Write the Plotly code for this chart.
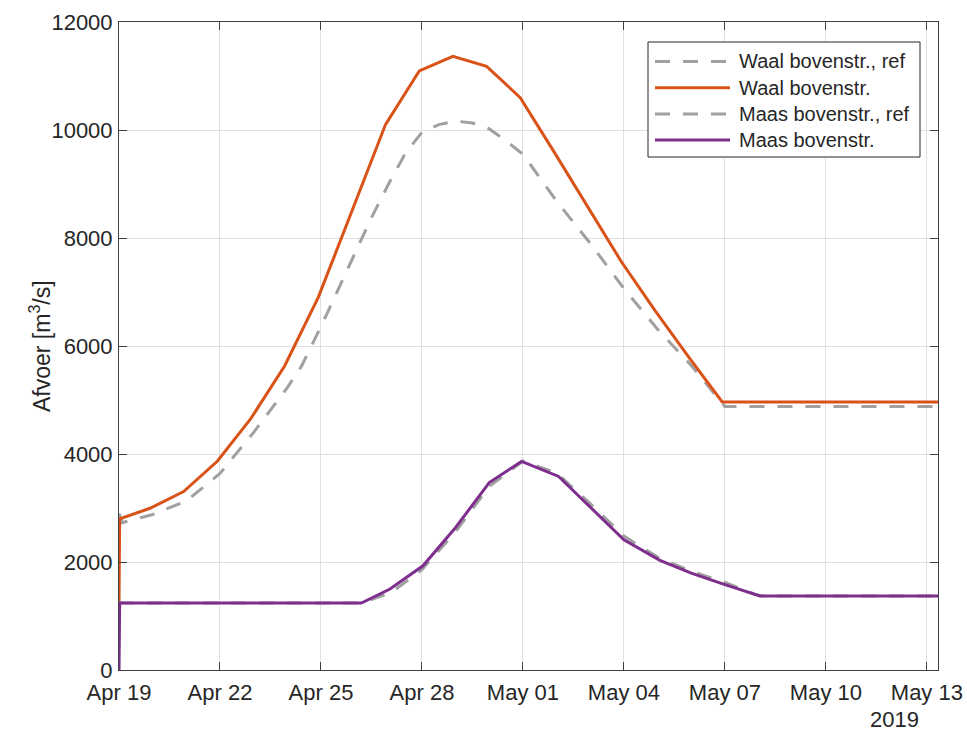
import pandas as pd
import plotly.graph_objects as go

# Start of the simulation period; all times below are offsets in days from here
t0 = pd.Timestamp("2019-04-19 00:00")

# Waal upstream discharge, reference run (m3/s)
waal_ref_days = [0.0, 0.1, 1.0, 2.0, 3.0, 4.0, 5.0, 5.42, 6.0, 7.0, 7.5, 8.0, 8.5, 9.0, 9.5,
                 10.0, 10.5, 11.0, 11.5, 12.0, 13.0, 14.0, 15.0, 16.0, 17.0, 18.0, 24.6]
waal_ref_q = [2900, 2730, 2880, 3130, 3640, 4400, 5230, 5625, 6360, 7700, 8377, 8990, 9560, 9960, 10100,
              10165, 10130, 10020, 9800, 9550, 8680, 7900, 7064, 6310, 5640, 4880, 4880]

# Waal upstream discharge, scenario run (m3/s)
waal_days = [0.0, 0.02, 0.92, 1.92, 2.92, 3.92, 4.92, 5.92, 6.92, 7.92, 8.92, 9.92, 10.92,
             11.92, 12.92, 13.92, 14.92, 15.92, 16.92, 17.92, 24.6]
waal_q = [1250, 2800, 2995, 3305, 3865, 4660, 5630, 6900, 8500, 10105, 11095, 11365, 11180,
          10600, 9600, 8570, 7565, 6660, 5800, 4965, 4965]

# Maas upstream discharge, reference run (m3/s)
maas_ref_days = [0.0, 7.2, 8.1, 9.0, 10.0, 11.0, 12.0, 13.0, 14.0, 15.0, 16.0, 17.0, 18.0,
                 18.9, 19.1, 24.6]
maas_ref_q = [1240, 1240, 1440, 1860, 2560, 3400, 3870, 3650, 3080, 2480, 2090, 1830, 1620,
              1400, 1372, 1372]

# Maas upstream discharge, scenario run (m3/s)
maas_days = [0.0, 0.02, 7.2, 8.05, 9.03, 10.0, 11.0, 11.96, 13.06, 14.0, 15.0, 16.07, 17.0,
             18.0, 19.04, 24.6]
maas_q = [0, 1240, 1240, 1500, 1930, 2640, 3470, 3863, 3585, 3020, 2410, 2030, 1795,
          1580, 1372, 1372]

series_names = ["Waal bovenstr., ref", "Waal bovenstr.", "Maas bovenstr., ref", "Maas bovenstr."]


def to_time(days):
    return t0 + pd.to_timedelta(days, unit="D")


ink = "#262626"
grey = "#a0a0a0"
dash = "15px,13px"
font_family = "Liberation Sans, Arial, Helvetica, sans-serif"

# Figure geometry (pixels) used to place the hand-drawn legend box
W, H = 967, 731
ML, MR, MT, MB = 119, 29, 22, 61
PW, PH = W - ML - MR, H - MT - MB


def px_x(px):
    return (px - ML) / PW


def px_y(py):
    return (H - MB - py) / PH


styles = [
    dict(color=grey, width=3, dash=dash),
    dict(color="#D95319", width=3),
    dict(color=grey, width=3, dash=dash),
    dict(color="#7E2F8E", width=3),
]
series = [(waal_ref_days, waal_ref_q), (waal_days, waal_q), (maas_ref_days, maas_ref_q), (maas_days, maas_q)]

fig = go.Figure()
for name, (d, q), st in zip(series_names, series, styles):
    fig.add_trace(go.Scatter(x=to_time(d), y=q, mode="lines", name=name, line=st, showlegend=False))

axis_common = dict(
    showline=True, linecolor="#404040", linewidth=1, mirror="ticks",
    ticks="inside", ticklen=8, tickwidth=1, tickcolor="#404040",
    showgrid=True, gridcolor="#e0e0e0", gridwidth=1, zeroline=False,
    tickfont=dict(family=font_family, size=22, color=ink),
    automargin=False,
)

# Legend: framed box with line samples and labels
shapes = [dict(type="rect", xref="paper", yref="paper",
               x0=px_x(648), x1=px_x(920), y0=px_y(157), y1=px_y(42),
               line=dict(color=ink, width=1), fillcolor="white", layer="above")]
annotations = []
for i, (name, st) in enumerate(zip(series_names, styles)):
    yy = px_y(61.5 + 26.2 * i)
    shapes.append(dict(type="line", xref="paper", yref="paper",
                       x0=px_x(655), x1=px_x(730), y0=yy, y1=yy,
                       line=st, layer="above"))
    annotations.append(dict(text=name, xref="paper", yref="paper", x=px_x(737), y=yy,
                            xanchor="left", yanchor="middle", showarrow=False,
                            font=dict(family=font_family, size=20, color=ink)))

annotations.append(dict(text="Afvoer [m<sup>3</sup>/s]", xref="paper", yref="paper",
                        x=px_x(40), y=px_y(346), textangle=-90,
                        xanchor="center", yanchor="middle", showarrow=False,
                        font=dict(family=font_family, size=23, color=ink)))
annotations.append(dict(text="2019", xref="paper", yref="paper", x=px_x(894), y=px_y(720),
                        xanchor="center", yanchor="middle", showarrow=False,
                        font=dict(family=font_family, size=22, color=ink)))

fig.update_layout(
    width=W, height=H,
    margin=dict(l=ML, r=MR, t=MT, b=MB),
    paper_bgcolor="white", plot_bgcolor="white",
    font=dict(family=font_family, color=ink),
    xaxis=dict(
        range=[t0, t0 + pd.Timedelta(days=24.33)],
        tick0=t0, dtick=3 * 86400000, tickformat="%b %d",
        ticklabelstandoff=3,
        **axis_common,
    ),
    yaxis=dict(
        range=[0, 12000], dtick=2000, tickformat="d",
        ticklabelstandoff=1,
        **axis_common,
    ),
    showlegend=False,
    shapes=shapes,
    annotations=annotations,
)

fig.write_html("out.html")
